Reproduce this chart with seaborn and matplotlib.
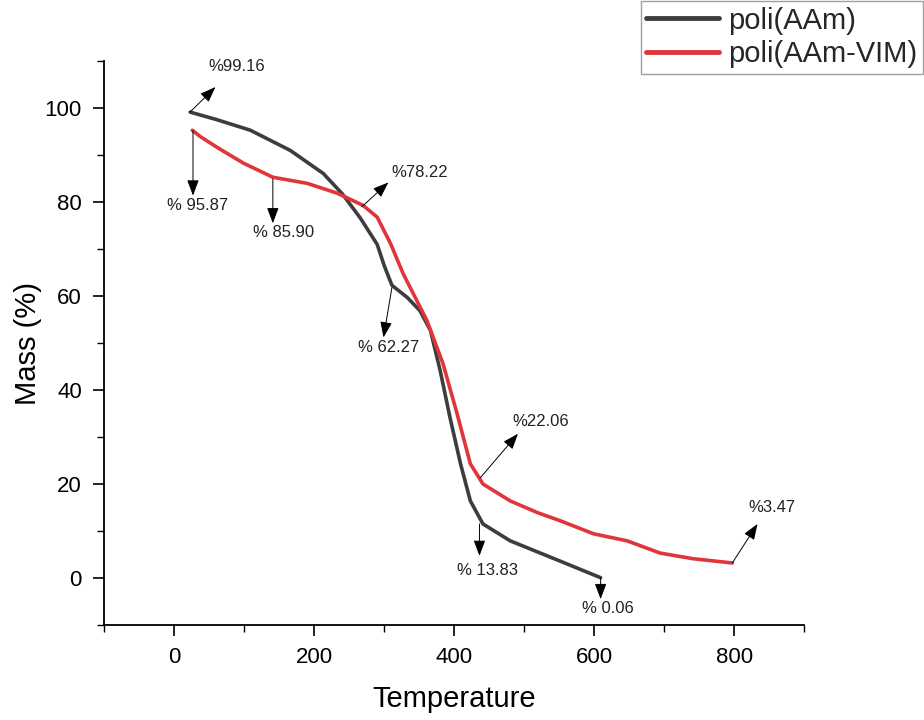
import matplotlib
matplotlib.use("Agg")
import matplotlib.pyplot as plt
import seaborn as sns
import pandas as pd
from matplotlib.ticker import MultipleLocator
from matplotlib.lines import Line2D

sns.set_theme(style="white")
plt.rcParams['font.family'] = ['Liberation Sans', 'DejaVu Sans']

# poli(AAm)
t_aam = [23, 60, 109, 166, 213, 240, 266, 290, 300, 311, 333, 351, 366, 380, 394, 409, 423, 441, 480, 551, 609]
m_aam = [99.16, 97.6, 95.3, 91.0, 86.1, 81.8, 76.6, 71.0, 66.5, 62.3, 59.7, 56.9, 52.7, 44.1, 34.1, 24.3, 16.4, 11.5, 7.9, 3.6, 0.06]
# poli(AAm-VIM)
t_vim = [26, 37, 61, 99, 141, 190, 233, 270, 290, 309, 327, 361, 384, 404, 423, 441, 480, 519, 551, 599, 647, 694, 741, 797]
m_vim = [95.3, 94.0, 91.7, 88.3, 85.3, 84.0, 81.9, 79.3, 76.8, 71.2, 64.8, 54.8, 45.6, 35.0, 24.3, 20.0, 16.4, 13.9, 12.2, 9.4, 7.9, 5.3, 4.1, 3.2]

series_names = ["poli(AAm)", "poli(AAm-VIM)"]
colors = ["#3d3d3d", "#e0353a"]

# annotations: label, tail (on curve), arrow head, text position
ann_labels = ["%99.16", "% 95.87", "% 85.90", "%78.22", "% 62.27", "%22.06", "% 13.83", "% 0.06", "%3.47"]
ann_tail = [(23, 99.2), (27, 95.2), (141, 84.9), (268, 79.0), (311, 61.8), (437, 21.3), (436, 11.5), (609, 0.0), (797, 3.2)]
ann_head = [(59, 104.5), (27, 81.4), (141, 75.5), (306, 84.2), (299, 51.2), (491, 30.7), (436, 4.7), (609, -4.5), (833, 11.5)]
ann_text = [(89, 108.8), (33, 79.3), (156, 73.5), (351, 86.4), (306, 49.0), (523, 33.3), (447, 1.5), (619, -6.4), (854, 14.9)]

df = pd.concat([
    pd.DataFrame({"Temperature": t_aam, "Mass": m_aam, "series": series_names[0]}),
    pd.DataFrame({"Temperature": t_vim, "Mass": m_vim, "series": series_names[1]}),
])

fig = plt.figure(figsize=(9.24, 7.2), dpi=100)
ax = fig.add_axes([0.1126, 0.132, 0.758, 0.783])
sns.lineplot(data=df, x="Temperature", y="Mass", hue="series", palette=colors,
             sort=False, linewidth=2.6, ax=ax, legend=False)

ax.set_xlim(-100, 900)
ax.set_ylim(-10, 110)
ax.xaxis.set_major_locator(MultipleLocator(200))
ax.xaxis.set_minor_locator(MultipleLocator(100))
ax.yaxis.set_major_locator(MultipleLocator(20))
ax.yaxis.set_minor_locator(MultipleLocator(10))
ax.tick_params(which='major', direction='out', length=8, width=1.2, labelsize=16, color='black', labelcolor='black',
               bottom=True, left=True, pad=8)
ax.tick_params(which='minor', direction='out', length=5, width=1.0, color='black', bottom=True, left=True)
for s in ['top', 'right']:
    ax.spines[s].set_visible(False)
for s in ['left', 'bottom']:
    ax.spines[s].set_color('black')
    ax.spines[s].set_linewidth(1.3)
ax.set_xlabel("Temperature", fontsize=21, color='black', labelpad=12)
ax.set_ylabel("Mass (%)", fontsize=21, color='black', labelpad=2)

for lab, tail, head, tx in zip(ann_labels, ann_tail, ann_head, ann_text):
    ax.annotate("", xy=head, xytext=tail,
                arrowprops=dict(arrowstyle='-|>,head_length=0.8,head_width=0.3', color='black', lw=0.7,
                                shrinkA=0, shrinkB=0))
    ax.text(tx[0], tx[1], lab, fontsize=12, ha='center', va='center', color='#222222')

handles = [Line2D([], [], color=c, lw=3.5) for c in colors]
leg = fig.legend(handles, series_names, loc='upper right', bbox_to_anchor=(0.999, 0.999),
                 fontsize=21, frameon=True, fancybox=False, handlelength=2.5, handletextpad=0.3,
                 borderpad=0.2, labelspacing=0.2, borderaxespad=0)
leg.get_frame().set_edgecolor('#888888')
leg.get_frame().set_linewidth(1.0)

fig.savefig("out.png", dpi=100, facecolor='white')
